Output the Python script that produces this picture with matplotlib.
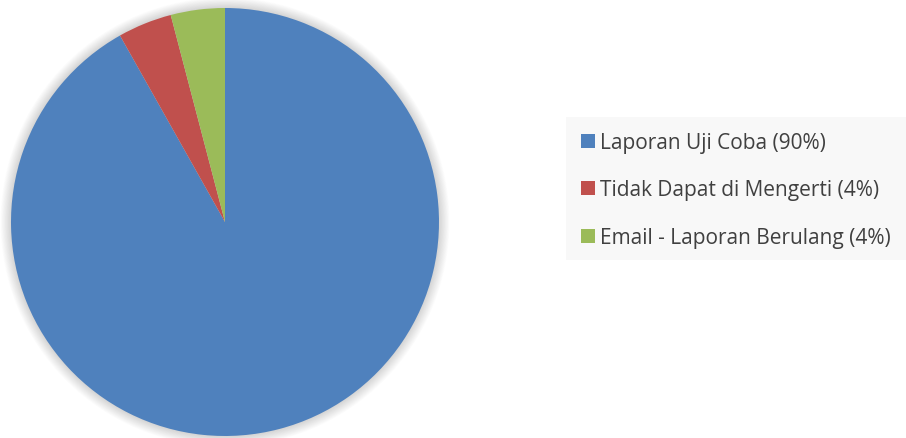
import matplotlib
matplotlib.use("Agg")
import matplotlib.pyplot as plt
from matplotlib.patches import Circle, Rectangle

categories = ["Laporan Uji Coba", "Tidak Dapat di Mengerti", "Email - Laporan Berulang"]
values = [90, 4, 4]
colors = ["#4F81BD", "#C0504D", "#9BBB59"]

W, H = 906, 438
fig = plt.figure(figsize=(W / 100, H / 100), dpi=100)
fig.patch.set_facecolor("white")

cx, cy, r = 225, 222, 214
ax = fig.add_axes([(cx - r) / W, (H - cy - r) / H, 2 * r / W, 2 * r / H])

# soft drop shadow around the pie
for k in range(14):
    ax.add_patch(Circle((0.0, 0.0), 1.0 + 0.0035 * (14 - k), color="black",
                        alpha=0.011, lw=0, zorder=0, clip_on=False))

wedges, _ = ax.pie(values, colors=colors, startangle=90, counterclock=False,
                   radius=1.0, wedgeprops=dict(linewidth=0))
for w in wedges:
    w.set_zorder(2)
    w.set_clip_on(False)
ax.set_xlim(-1, 1)
ax.set_ylim(-1, 1)
ax.set_aspect("equal")
ax.axis("off")

# legend panel, laid out in pixel coordinates
def px(x, y):
    return x / W, 1 - y / H

lx0, ly0, lx1, ly1 = 566, 117, 906, 260
bx, by = px(lx0, ly1)
fig.patches.append(Rectangle((bx, by), (lx1 - lx0) / W, (ly1 - ly0) / H,
                             transform=fig.transFigure, facecolor="#F8F8F8",
                             edgecolor="none", zorder=1))
row_y = [141, 188, 236]
sq = 14
for c, v, col, yy in zip(categories, values, colors, row_y):
    sx, sy = px(581, yy + sq / 2)
    fig.patches.append(Rectangle((sx, sy), sq / W, sq / H,
                                 transform=fig.transFigure, facecolor=col,
                                 edgecolor="none", zorder=2))
    tx, ty = px(600, yy)
    fig.text(tx, ty, f"{c} ({v}%)", fontsize=15, family="Open Sans",
             color="#404040", ha="left", va="center_baseline", zorder=3)

fig.savefig("out.png", dpi=100)
